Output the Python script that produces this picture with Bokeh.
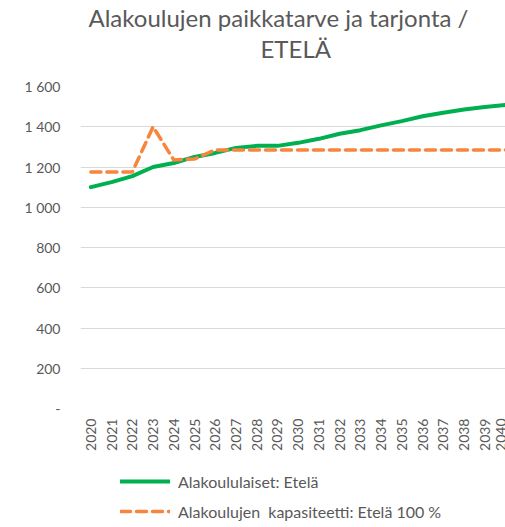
from bokeh.plotting import figure
from bokeh.models import FixedTicker, Legend, LegendItem, Range1d, Title
from bokeh.layouts import column
from bokeh.embed import file_html
from bokeh.resources import INLINE
import math

years = list(range(2020, 2041))
pupils = [1100, 1125, 1155, 1200, 1220, 1250, 1270, 1295, 1305, 1305, 1320,
          1340, 1365, 1383, 1407, 1428, 1452, 1470, 1486, 1498, 1508]
capacity = [1175, 1175, 1175, 1400, 1235, 1240, 1285, 1285, 1285, 1285, 1285,
            1285, 1285, 1285, 1285, 1285, 1285, 1285, 1285, 1285, 1285]
y_ticks = [0, 200, 400, 600, 800, 1000, 1200, 1400, 1600]
y_labels = ["-", "200", "400", "600", "800", "1 000", "1 200", "1 400", "1 600"]
title_line1 = "Alakoulujen paikkatarve ja tarjonta /"
title_line2 = "ETELÄ"
pupils_label = "Alakoululaiset: Etelä"
capacity_label = "Alakoulujen  kapasiteetti: Etelä 100 %"

FONT = "Lato"
GREY = "#595959"
GREEN = "#00B050"
ORANGE = "#F7853D"

p = figure(width=505, height=466, output_backend="svg", toolbar_location=None,
           x_range=Range1d(2019.5, 2040), y_range=Range1d(0, 1600),
           min_border_left=80, min_border_right=0, min_border_top=85,
           min_border_bottom=58)

p.title.text = title_line1
p.title.align = "left"
p.title.offset = 8
p.title.text_font = FONT
p.title.text_font_size = "24px"
p.title.text_font_style = "normal"
p.title.text_color = GREY
p.title.standoff = 0
# empty spacer between the title and the plot area (closest to the frame)
spacer = Title(text=" ", text_font=FONT, text_font_size="18px", standoff=0)
p.add_layout(spacer, "above")
t2 = Title(text=title_line2, align="left", offset=180, text_font=FONT,
           text_font_size="24px", text_font_style="normal", text_color=GREY,
           standoff=0)
p.add_layout(t2, "above")

p.outline_line_color = None
p.background_fill_color = "white"
p.border_fill_color = "white"

p.xgrid.grid_line_color = None
p.ygrid.grid_line_color = "#D9D9D9"
p.ygrid.grid_line_width = 1

p.yaxis.ticker = FixedTicker(ticks=y_ticks)
p.yaxis.major_label_overrides = {t: l for t, l in zip(y_ticks, y_labels)}
p.xaxis.ticker = FixedTicker(ticks=years)
p.xaxis.major_label_orientation = math.pi / 2

for ax in (p.xaxis[0], p.yaxis[0]):
    ax.axis_line_color = None
    ax.major_tick_line_color = None
    ax.minor_tick_line_color = None
    ax.major_tick_out = 0
    ax.major_tick_in = 0
    ax.major_label_text_font = FONT
    ax.major_label_text_font_size = "14px"
    ax.major_label_text_color = GREY
p.yaxis.major_label_standoff = 20
p.xaxis.major_label_standoff = 10

p.line(years, pupils, line_color=GREEN, line_width=4, line_cap="round")
p.line(years, capacity, line_color=ORANGE, line_width=3.5,
       line_dash="10 6", line_cap="round")

# legend strip below the chart (series drawn off-view; only swatches show)
pl = figure(width=505, height=61, output_backend="svg", toolbar_location=None,
            x_range=Range1d(0, 1), y_range=Range1d(0, 1),
            x_axis_location=None, y_axis_location=None,
            min_border=0, outline_line_color=None)
pl.grid.visible = False
l1 = pl.line(years, pupils, line_color=GREEN, line_width=4, line_cap="round")
l2 = pl.line(years, capacity, line_color=ORANGE, line_width=3.5,
             line_dash="10 6", line_cap="round")
legend = Legend(items=[LegendItem(label=pupils_label, renderers=[l1]),
                       LegendItem(label=capacity_label, renderers=[l2])],
                location=(40, 1), orientation="vertical",
                glyph_width=50, glyph_height=30, spacing=0,
                label_height=30,
                label_text_font=FONT, label_text_font_size="16px",
                label_text_color=GREY, border_line_color=None,
                background_fill_alpha=0, padding=0, margin=0,
                label_standoff=8)
pl.add_layout(legend, "center")

layout = column(p, pl, spacing=0)
open("out.html", "w").write(file_html(layout, INLINE))
